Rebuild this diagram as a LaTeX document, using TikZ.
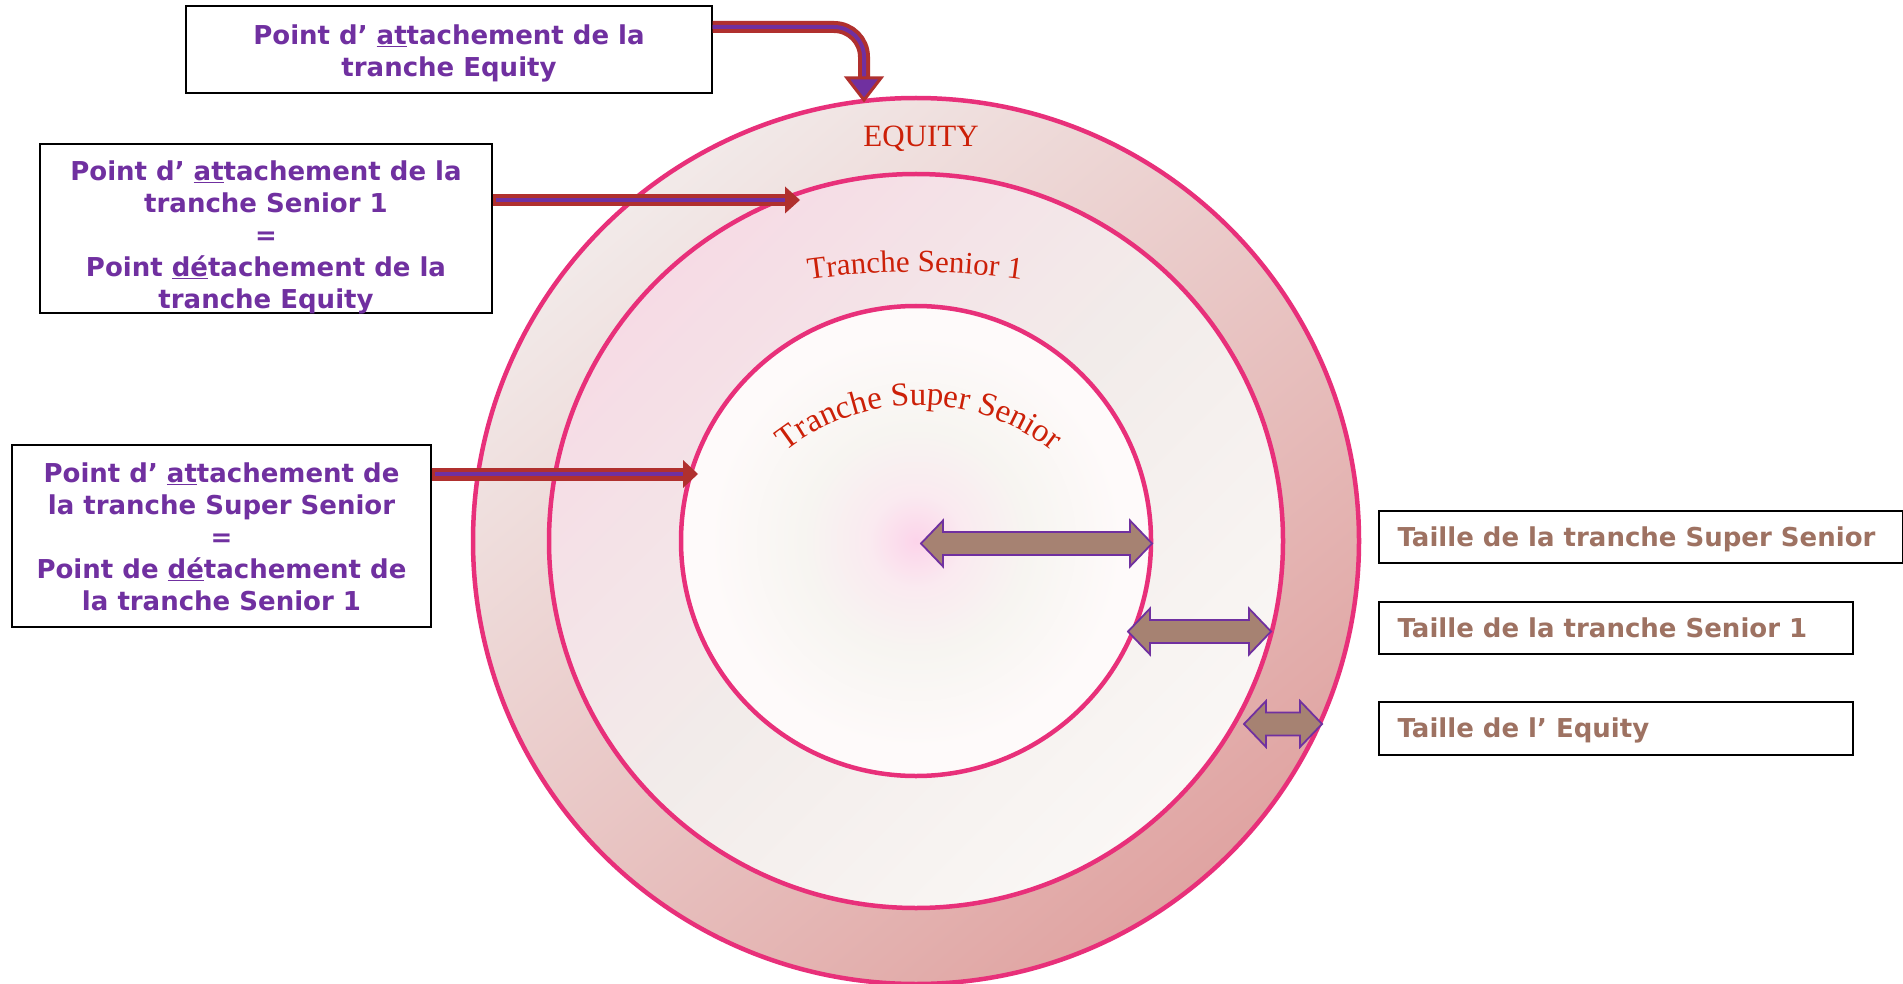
\documentclass[tikz,border=0pt]{standalone}
\usepackage{fontspec}
\setmainfont{DejaVu Sans}
\newfontfamily\serifrm{Liberation Serif}
\usetikzlibrary{decorations.text,calc}
\definecolor{ringpink}{RGB}{232,48,122}
\definecolor{outerA}{RGB}{242,234,233}
\definecolor{outerB}{RGB}{224,164,162}
\definecolor{midA}{RGB}{246,219,229}
\definecolor{midM}{RGB}{242,236,234}
\definecolor{midB}{RGB}{250,247,245}
\definecolor{innPink}{RGB}{252,212,234}
\definecolor{innMid}{RGB}{250,234,240}
\definecolor{innGray}{RGB}{247,245,241}
\definecolor{innWhite}{RGB}{254,250,250}
\definecolor{ptxt}{RGB}{112,48,160}
\definecolor{btxt}{RGB}{158,114,98}
\definecolor{arrred}{RGB}{176,48,46}
\definecolor{dafill}{RGB}{166,130,114}
\definecolor{lbl}{RGB}{204,32,8}
\pgfdeclareradialshading{innershade}{\pgfpoint{0bp}{0bp}}{color(0bp)=(innPink); color(5bp)=(innMid); color(12bp)=(innGray); color(22bp)=(innWhite); color(50bp)=(innWhite)}
\begin{document}
\begin{tikzpicture}[x=1pt,y=1pt,
  ring/.style={circle, inner sep=0pt, draw=ringpink, line width=4.5pt},
  lbox/.style={draw=black, line width=1.3pt, fill=white, inner sep=0pt},
  ltext/.style={align=center, inner sep=0pt, font=\bfseries\fontsize{26}{32}\selectfont, text=ptxt},
  rbox/.style={draw=black, line width=1.3pt, fill=white, inner sep=0pt, minimum height=52pt},
  rtext/.style={anchor=base west, inner sep=0pt, font=\bfseries\fontsize{26}{32}\selectfont, text=btxt},
  dastyle/.style={fill=dafill, draw=ptxt, line width=1.8pt, line join=miter},
  redshaft/.style={draw=arrred, line width=12pt},
  purpline/.style={draw=ptxt, line width=4pt},
  lblfont/.style={font=\serifrm\fontsize{31}{37}\selectfont, text=lbl}
]
\useasboundingbox (0,0) rectangle (1903,-984);
\fill[white] (0,0) rectangle (1903,-984);

% rings
\node[ring, minimum size=886pt, top color=outerA, bottom color=outerB, shading angle=40] (outer) at (916,-541) {};
\node[ring, minimum size=734pt, top color=midA, bottom color=midB, middle color=midM, shading angle=45] (middle) at (916,-541) {};
\node[ring, minimum size=470pt, shade, shading=innershade] (inner) at (916,-541) {};

% ring labels
\node[lblfont, anchor=base] (eqlbl) at (921,-147) {EQUITY};
\path[decorate, decoration={text along path, text align=center,
  text={|\serifrm\fontsize{31}{37}\selectfont\color{lbl}|Tranche Senior 1}}]
  (915,-1030) ++(102:758) arc[start angle=102, end angle=78, radius=758pt];
\path[decorate, decoration={text along path, text align=center,
  text={|\serifrm\fontsize{33}{39}\selectfont\color{lbl}|Tranche Super Senior}}]
  (919,-620) ++(140:215) arc[start angle=140, end angle=40, radius=215pt];

% double arrows
\newcommand{\dblarr}[2]{%
  \draw[dastyle] (#1) -- ++(22,23) -- ++(0,-11.5) -- ($(#2)+(-22,11.5)$) -- ++(0,11.5) -- (#2)
    -- ++(-22,-23) -- ++(0,11.5) -- ($(#1)+(22,-11.5)$) -- ++(0,-11.5) -- cycle;}
\coordinate (da1a) at (921,-543.5);
\coordinate (da1b) at (1152,-543.5);
\coordinate (da2a) at (1128,-631.5);
\coordinate (da2b) at (1271,-631.5);
\coordinate (da3a) at (1244,-724);
\coordinate (da3b) at (1322,-724);
\dblarr{da1a}{da1b}
\dblarr{da2a}{da2b}
\dblarr{da3a}{da3b}

% left boxes
\node[lbox, minimum width=526pt, minimum height=87pt] (b1) at (449,-49.5) {};
\node[ltext] (b1text) at ([yshift=-4pt]b1.center)
  {Point d’ \underline{at}tachement de la\\tranche Equity};
\node[lbox, minimum width=452pt, minimum height=169pt] (b2) at (266,-228.5) {};
\node[ltext] (b2text) at ([yshift=-9pt]b2.center)
  {Point d’ \underline{at}tachement de la\\tranche Senior 1\\=\\Point \underline{dé}tachement de la\\tranche Equity};
\node[lbox, minimum width=419pt, minimum height=182pt] (b3) at (221.5,-536) {};
\node[ltext] (b3text) at ([yshift=-1pt]b3.center)
  {Point d’ \underline{at}tachement de\\la tranche Super Senior\\=\\Point de \underline{dé}tachement de\\la tranche Senior 1};

% right boxes
\node[rbox, minimum width=524pt] (ssbox) at (1641,-537) {};
\node[rbox, minimum width=474pt] (s1box) at (1616,-628) {};
\node[rbox, minimum width=474pt, minimum height=53pt] (eqbox) at (1616,-728.5) {};
\node[rtext] (sstext) at ([xshift=19pt,yshift=-9pt]ssbox.west) {Taille de la tranche Super Senior};
\node[rtext] (s1text) at ([xshift=19pt,yshift=-9pt]s1box.west) {Taille de la tranche Senior 1};
\node[rtext] (eqtext) at ([xshift=19pt,yshift=-9pt]eqbox.west) {Taille de l’ Equity};

% arrow 1 (curved, to top of outer ring)
\coordinate (t1) at (864,-100);
\draw[redshaft] (b1.east |- 0,-27) -- (834,-27) arc[start angle=90, end angle=0, radius=30pt] -- ($(t1)+(0,22)$);
\draw[purpline] (b1.east |- 0,-27) -- (834,-27) arc[start angle=90, end angle=0, radius=30pt] -- ($(t1)+(0,20)$);
\draw[fill=ptxt, draw=arrred, line width=3pt, line join=miter] ($(t1)+(-17,22)$) -- ($(t1)+(17,22)$) -- (t1) -- cycle;

% arrow 2
\coordinate (t2) at (800,-200);
\draw[redshaft, line width=11.7pt] (b2.east |- t2) -- ($(t2)+(-15,0)$);
\draw[purpline] ($(b2.east |- t2)+(3,0)$) -- ($(t2)+(-8,0)$);
\fill[arrred] ($(t2)+(-15,13.5)$) -- (t2) -- ($(t2)+(-15,-13.5)$) -- cycle;

% arrow 3
\coordinate (t3) at (698,-474);
\draw[redshaft, line width=13pt] (b3.east |- t3) -- ($(t3)+(-15,0)$);
\draw[purpline] ($(b3.east |- t3)+(3,0)$) -- ($(t3)+(-8,0)$);
\fill[arrred] ($(t3)+(-15,14)$) -- (t3) -- ($(t3)+(-15,-14)$) -- cycle;
\end{tikzpicture}
\end{document}
